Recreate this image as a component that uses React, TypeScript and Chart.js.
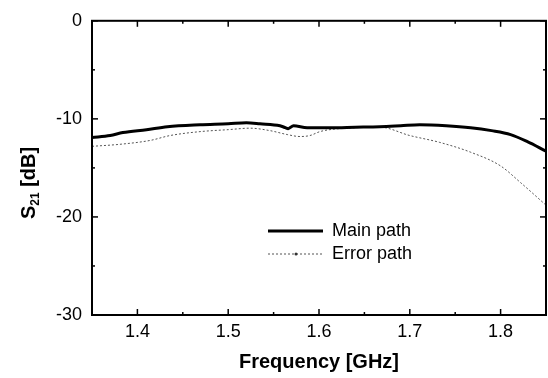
import React, { useEffect, useRef } from "react";
import { Chart, registerables } from "chart.js";
Chart.register(...registerables);

const mainFreq = [1.35, 1.37, 1.384, 1.41, 1.433, 1.469, 1.5, 1.52, 1.535, 1.557, 1.563, 1.566, 1.572, 1.587, 1.612, 1.64, 1.667, 1.69, 1.711, 1.74, 1.767, 1.79, 1.811, 1.829, 1.85];
const mainDb = [-11.9, -11.7, -11.4, -11.1, -10.8, -10.6, -10.5, -10.4, -10.5, -10.7, -10.9, -11.0, -10.7, -10.9, -10.9, -10.85, -10.8, -10.7, -10.6, -10.7, -10.9, -11.2, -11.6, -12.3, -13.3];

const errFreq = [1.35, 1.38, 1.414, 1.436, 1.469, 1.5, 1.524, 1.546, 1.565, 1.579, 1.59, 1.601, 1.612, 1.64, 1.667, 1.7, 1.733, 1.767, 1.8, 1.822, 1.85];
const errDb = [-12.8, -12.6, -12.2, -11.7, -11.3, -11.1, -10.95, -11.2, -11.6, -11.8, -11.7, -11.3, -11.1, -10.9, -10.85, -11.7, -12.4, -13.4, -14.8, -16.5, -18.8];

const xTicks = [1.4, 1.5, 1.6, 1.7, 1.8];
const xMinor = [1.45, 1.55, 1.65, 1.75];
const yTicks = [0, -10, -20, -30];
const yMinor = [-5, -15, -25];

const seriesNames = ["Main path", "Error path"];
const xTitle = "Frequency [GHz]";

const FONT = "'Liberation Sans', Arial, sans-serif";

const framePlugin = {
  id: "frame",
  afterDraw(chart: any) {
    const { ctx, chartArea: a, scales } = chart;
    const xs = scales.x, ys = scales.y;
    ctx.save();
    ctx.strokeStyle = "#000";
    ctx.lineWidth = 2;
    ctx.strokeRect(a.left, a.top, a.right - a.left, a.bottom - a.top);
    ctx.lineWidth = 1.5;
    const tick = (x1: number, y1: number, x2: number, y2: number) => {
      ctx.beginPath();
      ctx.moveTo(x1, y1);
      ctx.lineTo(x2, y2);
      ctx.stroke();
    };
    xTicks.forEach((v) => {
      const px = xs.getPixelForValue(v);
      tick(px, a.bottom, px, a.bottom - 6);
      tick(px, a.top, px, a.top + 6);
    });
    xMinor.forEach((v) => {
      const px = xs.getPixelForValue(v);
      tick(px, a.bottom, px, a.bottom - 3);
      tick(px, a.top, px, a.top + 3);
    });
    yTicks.forEach((v) => {
      const py = ys.getPixelForValue(v);
      tick(a.left, py, a.left + 6, py);
      tick(a.right, py, a.right - 6, py);
    });
    yMinor.forEach((v) => {
      const py = ys.getPixelForValue(v);
      tick(a.left, py, a.left + 3, py);
      tick(a.right, py, a.right - 3, py);
    });

    // x title
    ctx.fillStyle = "#000";
    ctx.font = `bold 20px ${FONT}`;
    ctx.textAlign = "center";
    ctx.textBaseline = "middle";
    ctx.fillText(xTitle, (a.left + a.right) / 2, 362);

    // y title with subscript
    ctx.save();
    ctx.translate(28, 183);
    ctx.rotate(-Math.PI / 2);
    const big = `bold 20px ${FONT}`;
    const small = `bold 12px ${FONT}`;
    ctx.font = big;
    const wS = ctx.measureText("S").width;
    const wRest = ctx.measureText(" [dB]").width;
    ctx.font = small;
    const wSub = ctx.measureText("21").width;
    const total = wS + wSub + wRest;
    let x0 = -total / 2;
    ctx.textAlign = "left";
    ctx.textBaseline = "alphabetic";
    ctx.font = big;
    ctx.fillText("S", x0, 7);
    x0 += wS;
    ctx.font = small;
    ctx.fillText("21", x0, 11);
    x0 += wSub;
    ctx.font = big;
    ctx.fillText(" [dB]", x0, 7);
    ctx.restore();

    // legend
    ctx.font = `18px ${FONT}`;
    ctx.textAlign = "left";
    ctx.textBaseline = "middle";
    ctx.strokeStyle = "#000";
    ctx.lineWidth = 3;
    ctx.setLineDash([]);
    tick(268, 231, 323, 231);
    ctx.fillText(seriesNames[0], 332, 231);
    ctx.strokeStyle = "#555";
    ctx.lineWidth = 1;
    ctx.setLineDash([2, 2]);
    tick(268, 254, 323, 254);
    ctx.setLineDash([]);
    ctx.fillStyle = "#333";
    ctx.beginPath();
    ctx.arc(296, 254, 1.5, 0, Math.PI * 2);
    ctx.fill();
    ctx.fillStyle = "#000";
    ctx.fillText(seriesNames[1], 332, 254);
    ctx.restore();
  },
};

export default function App() {
  const ref = useRef<HTMLCanvasElement>(null);
  useEffect(() => {
    if (!ref.current) return;
    const chart = new Chart(ref.current, {
      type: "line",
      data: {
        datasets: [
          {
            label: seriesNames[0],
            data: mainFreq.map((f, i) => ({ x: f, y: mainDb[i] })),
            borderColor: "#000",
            borderWidth: 3,
            pointRadius: 0,
            cubicInterpolationMode: "monotone",
          },
          {
            label: seriesNames[1],
            data: errFreq.map((f, i) => ({ x: f, y: errDb[i] })),
            borderColor: "#555",
            borderWidth: 1,
            borderDash: [2, 2],
            pointRadius: 0,
            cubicInterpolationMode: "monotone",
          },
        ],
      },
      options: {
        responsive: false,
        animation: false,
        layout: { padding: { left: 0, top: 15, right: 2, bottom: 0 } },
        plugins: { legend: { display: false }, tooltip: { enabled: false } },
        scales: {
          x: {
            type: "linear",
            min: 1.35,
            max: 1.85,
            grid: { display: false, drawTicks: false },
            border: { display: false },
            afterBuildTicks: (s: any) => {
              s.ticks = xTicks.map((v) => ({ value: v }));
            },
            afterFit: (s: any) => {
              s.height = 63;
            },
            ticks: {
              color: "#000",
              font: { family: FONT, size: 18 },
              padding: 6,
              maxRotation: 0,
              callback: (v: any) => Number(v).toFixed(1),
            },
          },
          y: {
            type: "linear",
            min: -30,
            max: 0,
            grid: { display: false, drawTicks: false },
            border: { display: false },
            afterBuildTicks: (s: any) => {
              s.ticks = yTicks.map((v) => ({ value: v }));
            },
            afterFit: (s: any) => {
              s.width = 92;
            },
            ticks: {
              color: "#000",
              font: { family: FONT, size: 18 },
              padding: 10,
            },
          },
        },
      },
      plugins: [framePlugin],
    });
    return () => chart.destroy();
  }, []);
  return (
    <div style={{ position: "fixed", left: 0, top: 0, width: 548, height: 378, background: "#fff" }}>
      <canvas ref={ref} width={548} height={378} />
    </div>
  );
}
